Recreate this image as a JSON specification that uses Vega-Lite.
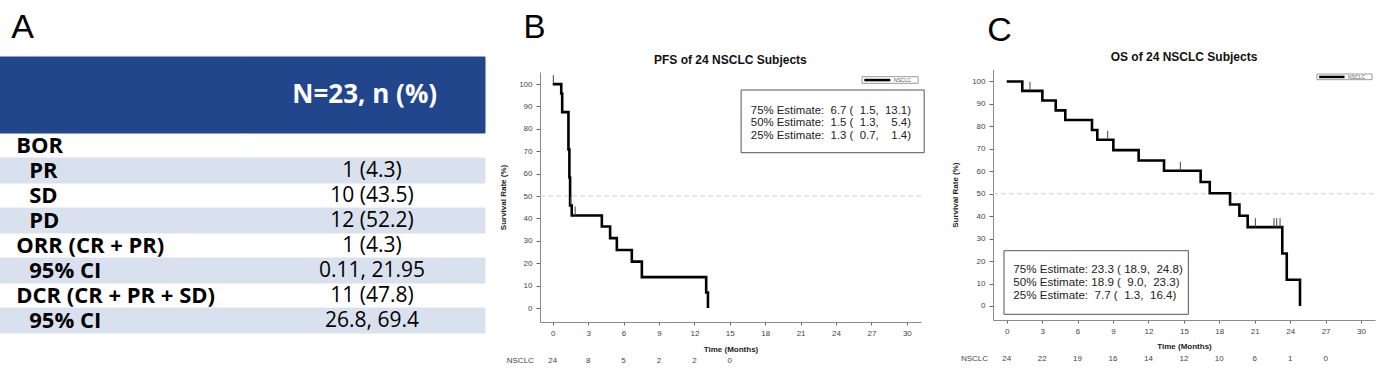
{
  "$schema": "https://vega.github.io/schema/vega-lite/v6.json",
  "width": 1379,
  "height": 377,
  "autosize": {"type": "none"},
  "padding": 0,
  "background": "white",
  "config": {
    "view": {"stroke": null},
    "font": "Liberation Sans",
    "axis": {"grid": false, "labelOverlap": false, "labelBound": false, "labelFont": "Liberation Sans", "titleFont": "Liberation Sans", "labelFontSize": 8, "titleFontSize": 8, "titleFontWeight": "bold", "labelColor": "#444444", "titleColor": "#222222", "domainColor": "#8a8a8a", "tickColor": "#666666"}
  },
  "datasets": {
    "table": [
      {"row": 1, "label": "BOR", "level": 0, "value": ""},
      {"row": 2, "label": "PR", "level": 1, "value": "1 (4.3)"},
      {"row": 3, "label": "SD", "level": 1, "value": "10 (43.5)"},
      {"row": 4, "label": "PD", "level": 1, "value": "12 (52.2)"},
      {"row": 5, "label": "ORR (CR + PR)", "level": 0, "value": "1 (4.3)"},
      {"row": 6, "label": "95% CI", "level": 1, "value": "0.11, 21.95"},
      {"row": 7, "label": "DCR (CR + PR + SD)", "level": 0, "value": "11 (47.8)"},
      {"row": 8, "label": "95% CI", "level": 1, "value": "26.8, 69.4"}
    ],
    "header": [
      {"col": "label", "text": ""},
      {"col": "value", "text": "N=23, n (%)"}
    ],
    "pfs": [
      {"month": 0, "surv": 100}, {"month": 0.72, "surv": 95.8}, {"month": 0.8, "surv": 87.5},
      {"month": 1.33, "surv": 70.8}, {"month": 1.41, "surv": 58.3}, {"month": 1.47, "surv": 45.8},
      {"month": 1.61, "surv": 41.3}, {"month": 4.16, "surv": 36.4}, {"month": 4.86, "surv": 31.2},
      {"month": 5.43, "surv": 25.9}, {"month": 6.7, "surv": 20.7}, {"month": 7.55, "surv": 13.8},
      {"month": 13.0, "surv": 6.9}, {"month": 13.15, "surv": 0}
    ],
    "pfs_censor": [
      {"month": 0.05, "surv": 100}, {"month": 1.52, "surv": 45.8}, {"month": 1.9, "surv": 41.3}
    ],
    "pfs_risk": [
      {"month": 0, "n": 24}, {"month": 3, "n": 8}, {"month": 6, "n": 5},
      {"month": 9, "n": 2}, {"month": 12, "n": 2}, {"month": 15, "n": 0}
    ],
    "pfs_est": [
      {"lines": ["75% Estimate:\u00a0\u00a06.7 (\u00a0\u00a01.5,\u00a0\u00a013.1)", "50% Estimate:\u00a0\u00a01.5 (\u00a0\u00a01.3,\u00a0\u00a0\u00a0\u00a05.4)", "25% Estimate:\u00a0\u00a01.3 (\u00a0\u00a00.7,\u00a0\u00a0\u00a0\u00a01.4)"]}
    ],
    "os": [
      {"month": 0, "surv": 100}, {"month": 1.32, "surv": 95.8}, {"month": 3.02, "surv": 91.5},
      {"month": 4.15, "surv": 87.1}, {"month": 4.96, "surv": 82.8}, {"month": 7.22, "surv": 78.4},
      {"month": 7.67, "surv": 74.0}, {"month": 9.03, "surv": 69.4}, {"month": 11.17, "surv": 64.8},
      {"month": 13.32, "surv": 60.2}, {"month": 16.42, "surv": 55.2}, {"month": 17.19, "surv": 50.2},
      {"month": 18.91, "surv": 45.2}, {"month": 19.7, "surv": 40.2}, {"month": 20.4, "surv": 35.1},
      {"month": 23.33, "surv": 23.4}, {"month": 23.71, "surv": 11.7}, {"month": 24.83, "surv": 0}
    ],
    "os_censor": [
      {"month": 1.97, "surv": 95.8}, {"month": 8.55, "surv": 74.0}, {"month": 14.7, "surv": 60.2},
      {"month": 21.05, "surv": 35.1}, {"month": 22.63, "surv": 35.1}, {"month": 22.86, "surv": 35.1},
      {"month": 23.14, "surv": 35.1}
    ],
    "os_risk": [
      {"month": 0, "n": 24}, {"month": 3, "n": 22}, {"month": 6, "n": 19}, {"month": 9, "n": 16},
      {"month": 12, "n": 14}, {"month": 15, "n": 12}, {"month": 18, "n": 10}, {"month": 21, "n": 6},
      {"month": 24, "n": 1}, {"month": 27, "n": 0}
    ],
    "os_est": [
      {"lines": ["75% Estimate: 23.3 ( 18.9,\u00a0\u00a024.8)", "50% Estimate: 18.9 (\u00a0\u00a09.0,\u00a0\u00a023.3)", "25% Estimate:\u00a0\u00a07.7 (\u00a0\u00a01.3,\u00a0\u00a016.4)"]}
    ],
    "one": [{}]
  },
  "resolve": {"scale": {"x": "independent", "y": "independent"}, "axis": {"x": "independent", "y": "independent"}},
  "layer": [
    {
      "resolve": {"scale": {"y": "independent"}},
      "layer": [
        {
          "data": {"name": "header"},
          "layer": [
            {
              "mark": {"type": "rect", "fill": "#21468b", "stroke": "#21468b", "strokeWidth": 1},
              "encoding": {
                "x": {"field": "col", "type": "nominal", "scale": {"type": "band", "domain": ["label", "value"], "range": [0, 485], "paddingInner": 0, "paddingOuter": 0}, "axis": null},
                "y": {"datum": "header", "type": "nominal", "scale": {"type": "band", "domain": ["header"], "range": [57, 133], "paddingInner": 0, "paddingOuter": 0}, "axis": null}
              }
            },
            {
              "transform": [{"filter": "datum.text != ''"}],
              "mark": {"type": "text", "font": "Open Sans", "fontWeight": "bold", "fontSize": 26, "color": "white", "align": "center", "baseline": "middle", "dx": 1},
              "encoding": {
                "x": {"field": "col", "type": "nominal"},
                "y": {"datum": "header", "type": "nominal"},
                "text": {"field": "text"}
              }
            },
            {
              "transform": [{"filter": "datum.col == 'label'"}],
              "mark": {"type": "text", "font": "Liberation Sans", "fontSize": 34, "color": "black", "align": "center", "baseline": "alphabetic", "dx": -98.75, "dy": -57},
              "encoding": {
                "x": {"datum": "label", "type": "nominal"},
                "y": {"datum": "header", "type": "nominal"},
                "text": {"value": "A"}
              }
            }
          ]
        },
        {
          "data": {"name": "table"},
          "layer": [
            {
              "transform": [{"filter": "datum.row % 2 == 0"}, {"fold": ["label", "value"], "as": ["col", "txt"]}],
              "mark": {"type": "rect", "fill": "#dae1ee", "stroke": "#dae1ee", "strokeWidth": 1},
              "encoding": {
                "x": {"field": "col", "type": "nominal"},
                "y": {"field": "row", "type": "ordinal", "scale": {"type": "band", "range": [133, 333], "paddingInner": 0, "paddingOuter": 0}, "axis": null}
              }
            },
            {
              "transform": [{"filter": "datum.level == 0"}],
              "mark": {"type": "text", "font": "Open Sans", "fontWeight": "bold", "fontSize": 22, "color": "black", "align": "left", "baseline": "middle", "dx": -105},
              "encoding": {
                "x": {"datum": "label", "type": "nominal"},
                "y": {"field": "row", "type": "ordinal"},
                "text": {"field": "label"}
              }
            },
            {
              "transform": [{"filter": "datum.level == 1"}],
              "mark": {"type": "text", "font": "Open Sans", "fontWeight": "bold", "fontSize": 22, "color": "black", "align": "left", "baseline": "middle", "dx": -92},
              "encoding": {
                "x": {"datum": "label", "type": "nominal"},
                "y": {"field": "row", "type": "ordinal"},
                "text": {"field": "label"}
              }
            },
            {
              "mark": {"type": "text", "font": "Open Sans", "fontSize": 21, "color": "black", "align": "center", "baseline": "middle", "dx": 8.25},
              "encoding": {
                "x": {"datum": "value", "type": "nominal"},
                "y": {"field": "row", "type": "ordinal"},
                "text": {"field": "value"}
              }
            }
          ]
        }
      ]
    },
    {
      "layer": [
        {
          "data": {"name": "one"},
          "mark": {"type": "rule", "color": "#d0d0d0", "strokeDash": [5, 3], "strokeWidth": 1},
          "encoding": {
            "x": {"datum": -1.08, "type": "quantitative",
              "scale": {"domain": [-1.08, 31.2], "range": [540, 921], "nice": false, "zero": false},
              "axis": {"orient": "bottom", "offset": -55, "values": [0, 3, 6, 9, 12, 15, 18, 21, 24, 27, 30], "labelOverlap": false, "title": "Time (Months)", "tickSize": 3, "labelPadding": 4, "titlePadding": 8}},
            "x2": {"datum": 31.2},
            "y": {"datum": 50, "type": "quantitative",
              "scale": {"domain": [-6.25, 105.4], "range": [322, 72], "nice": false, "zero": false},
              "axis": {"orient": "left", "offset": -540, "values": [0, 10, 20, 30, 40, 50, 60, 70, 80, 90, 100], "tickCount": 11, "labelOverlap": false, "labelFlush": false, "title": "Survival Rate (%)", "tickSize": 4, "labelPadding": 4, "titlePadding": 11}}
          }
        },
        {
          "data": {"name": "pfs"},
          "mark": {"type": "line", "interpolate": "step-after", "color": "black", "strokeWidth": 2.6},
          "encoding": {
            "x": {"field": "month", "type": "quantitative"},
            "y": {"field": "surv", "type": "quantitative"}
          }
        },
        {
          "data": {"name": "pfs_censor"},
          "mark": {"type": "rule", "color": "#444444", "strokeWidth": 1, "y2Offset": -9},
          "encoding": {
            "x": {"field": "month", "type": "quantitative"},
            "y": {"field": "surv", "type": "quantitative"},
            "y2": {"field": "surv"}
          }
        },
        {
          "data": {"name": "one"},
          "mark": {"type": "rect", "fill": "white", "stroke": "#999999", "strokeWidth": 1},
          "encoding": {
            "x": {"datum": 26.2, "type": "quantitative"}, "x2": {"datum": 30.96},
            "y": {"datum": 100.35, "type": "quantitative"}, "y2": {"datum": 103.3}
          }
        },
        {
          "data": {"name": "one"},
          "mark": {"type": "rule", "color": "black", "strokeWidth": 2.5},
          "encoding": {
            "x": {"datum": 26.4, "type": "quantitative"}, "x2": {"datum": 28.6},
            "y": {"datum": 101.8, "type": "quantitative"}
          }
        },
        {
          "data": {"name": "one"},
          "mark": {"type": "text", "fontSize": 5, "color": "#555555", "align": "left", "baseline": "middle"},
          "encoding": {
            "x": {"datum": 28.9, "type": "quantitative"},
            "y": {"datum": 101.8, "type": "quantitative"},
            "text": {"value": "NSCLC"}
          }
        },
        {
          "data": {"name": "one"},
          "mark": {"type": "rect", "fill": "white", "stroke": "#555555", "strokeWidth": 1},
          "encoding": {
            "x": {"datum": 15.96, "type": "quantitative"}, "x2": {"datum": 31.47},
            "y": {"datum": 69.36, "type": "quantitative"}, "y2": {"datum": 97.36}
          }
        },
        {
          "data": {"name": "pfs_est"},
          "mark": {"type": "text", "fontSize": 11.4, "lineHeight": 12.5, "color": "#222222", "align": "left", "baseline": "middle"},
          "encoding": {
            "x": {"datum": 16.78, "type": "quantitative"},
            "y": {"datum": 88.2, "type": "quantitative"},
            "text": {"field": "lines"}
          }
        },
        {
          "data": {"name": "one"},
          "mark": {"type": "text", "fontSize": 12, "fontWeight": "bold", "color": "#111111", "align": "center", "baseline": "middle"},
          "encoding": {
            "x": {"datum": 15.05, "type": "quantitative"},
            "y": {"datum": 110.76, "type": "quantitative"},
            "text": {"value": "PFS of 24 NSCLC Subjects"}
          }
        },
        {
          "data": {"name": "one"},
          "mark": {"type": "text", "fontSize": 33, "color": "black", "align": "center", "baseline": "alphabetic"},
          "encoding": {
            "x": {"datum": -1.54, "type": "quantitative"},
            "y": {"datum": 120.6, "type": "quantitative"},
            "text": {"value": "B"}
          }
        },
        {
          "data": {"name": "pfs_risk"},
          "mark": {"type": "text", "fontSize": 8, "color": "#444444", "align": "center", "baseline": "middle"},
          "encoding": {
            "x": {"field": "month", "type": "quantitative"},
            "y": {"datum": -23.7, "type": "quantitative"},
            "text": {"field": "n"}
          }
        },
        {
          "data": {"name": "one"},
          "mark": {"type": "text", "fontSize": 8, "color": "#444444", "align": "right", "baseline": "middle"},
          "encoding": {
            "x": {"datum": -1.6, "type": "quantitative"},
            "y": {"datum": -23.7, "type": "quantitative"},
            "text": {"value": "NSCLC"}
          }
        }
      ]
    },
    {
      "layer": [
        {
          "data": {"name": "one"},
          "mark": {"type": "rule", "color": "#d0d0d0", "strokeDash": [5, 3], "strokeWidth": 1},
          "encoding": {
            "x": {"datum": -1.16, "type": "quantitative",
              "scale": {"domain": [-1.16, 31.18], "range": [993, 1375], "nice": false, "zero": false},
              "axis": {"orient": "bottom", "offset": -57, "values": [0, 3, 6, 9, 12, 15, 18, 21, 24, 27, 30], "labelOverlap": false, "title": "Time (Months)", "tickSize": 3, "labelPadding": 4, "titlePadding": 7}},
            "x2": {"datum": 31.18},
            "y": {"datum": 50, "type": "quantitative",
              "scale": {"domain": [-6.24, 105.4], "range": [320, 69.3], "nice": false, "zero": false},
              "axis": {"orient": "left", "offset": -993, "values": [0, 10, 20, 30, 40, 50, 60, 70, 80, 90, 100], "tickCount": 11, "labelOverlap": false, "labelFlush": false, "title": "Survival Rate (%)", "tickSize": 4, "labelPadding": 4, "titlePadding": 12}}
          }
        },
        {
          "data": {"name": "os"},
          "mark": {"type": "line", "interpolate": "step-after", "color": "black", "strokeWidth": 2.6},
          "encoding": {
            "x": {"field": "month", "type": "quantitative"},
            "y": {"field": "surv", "type": "quantitative"}
          }
        },
        {
          "data": {"name": "os_censor"},
          "mark": {"type": "rule", "color": "#444444", "strokeWidth": 1, "y2Offset": -9},
          "encoding": {
            "x": {"field": "month", "type": "quantitative"},
            "y": {"field": "surv", "type": "quantitative"},
            "y2": {"field": "surv"}
          }
        },
        {
          "data": {"name": "one"},
          "mark": {"type": "rect", "fill": "white", "stroke": "#999999", "strokeWidth": 1},
          "encoding": {
            "x": {"datum": 26.27, "type": "quantitative"}, "x2": {"datum": 30.93},
            "y": {"datum": 100.77, "type": "quantitative"}, "y2": {"datum": 103.3}
          }
        },
        {
          "data": {"name": "one"},
          "mark": {"type": "rule", "color": "black", "strokeWidth": 2.5},
          "encoding": {
            "x": {"datum": 26.45, "type": "quantitative"}, "x2": {"datum": 28.6},
            "y": {"datum": 102.0, "type": "quantitative"}
          }
        },
        {
          "data": {"name": "one"},
          "mark": {"type": "text", "fontSize": 5, "color": "#555555", "align": "left", "baseline": "middle"},
          "encoding": {
            "x": {"datum": 28.9, "type": "quantitative"},
            "y": {"datum": 102.0, "type": "quantitative"},
            "text": {"value": "NSCLC"}
          }
        },
        {
          "data": {"name": "one"},
          "mark": {"type": "rect", "fill": "white", "stroke": "#555555", "strokeWidth": 1},
          "encoding": {
            "x": {"datum": -0.23, "type": "quantitative"}, "x2": {"datum": 15.38},
            "y": {"datum": -3.7, "type": "quantitative"}, "y2": {"datum": 24.62}
          }
        },
        {
          "data": {"name": "os_est"},
          "mark": {"type": "text", "fontSize": 11.6, "lineHeight": 12.8, "color": "#222222", "align": "left", "baseline": "middle"},
          "encoding": {
            "x": {"datum": 0.56, "type": "quantitative"},
            "y": {"datum": 16.03, "type": "quantitative"},
            "text": {"field": "lines"}
          }
        },
        {
          "data": {"name": "one"},
          "mark": {"type": "text", "fontSize": 12, "fontWeight": "bold", "color": "#111111", "align": "center", "baseline": "middle"},
          "encoding": {
            "x": {"datum": 15.01, "type": "quantitative"},
            "y": {"datum": 111.0, "type": "quantitative"},
            "text": {"value": "OS of 24 NSCLC Subjects"}
          }
        },
        {
          "data": {"name": "one"},
          "mark": {"type": "text", "fontSize": 34, "color": "black", "align": "center", "baseline": "alphabetic"},
          "encoding": {
            "x": {"datum": -0.61, "type": "quantitative"},
            "y": {"datum": 117.8, "type": "quantitative"},
            "text": {"value": "C"}
          }
        },
        {
          "data": {"name": "os_risk"},
          "mark": {"type": "text", "fontSize": 8, "color": "#444444", "align": "center", "baseline": "middle"},
          "encoding": {
            "x": {"field": "month", "type": "quantitative"},
            "y": {"datum": -23.74, "type": "quantitative"},
            "text": {"field": "n"}
          }
        },
        {
          "data": {"name": "one"},
          "mark": {"type": "text", "fontSize": 8, "color": "#444444", "align": "right", "baseline": "middle"},
          "encoding": {
            "x": {"datum": -1.58, "type": "quantitative"},
            "y": {"datum": -23.74, "type": "quantitative"},
            "text": {"value": "NSCLC"}
          }
        }
      ]
    }
  ]
}
